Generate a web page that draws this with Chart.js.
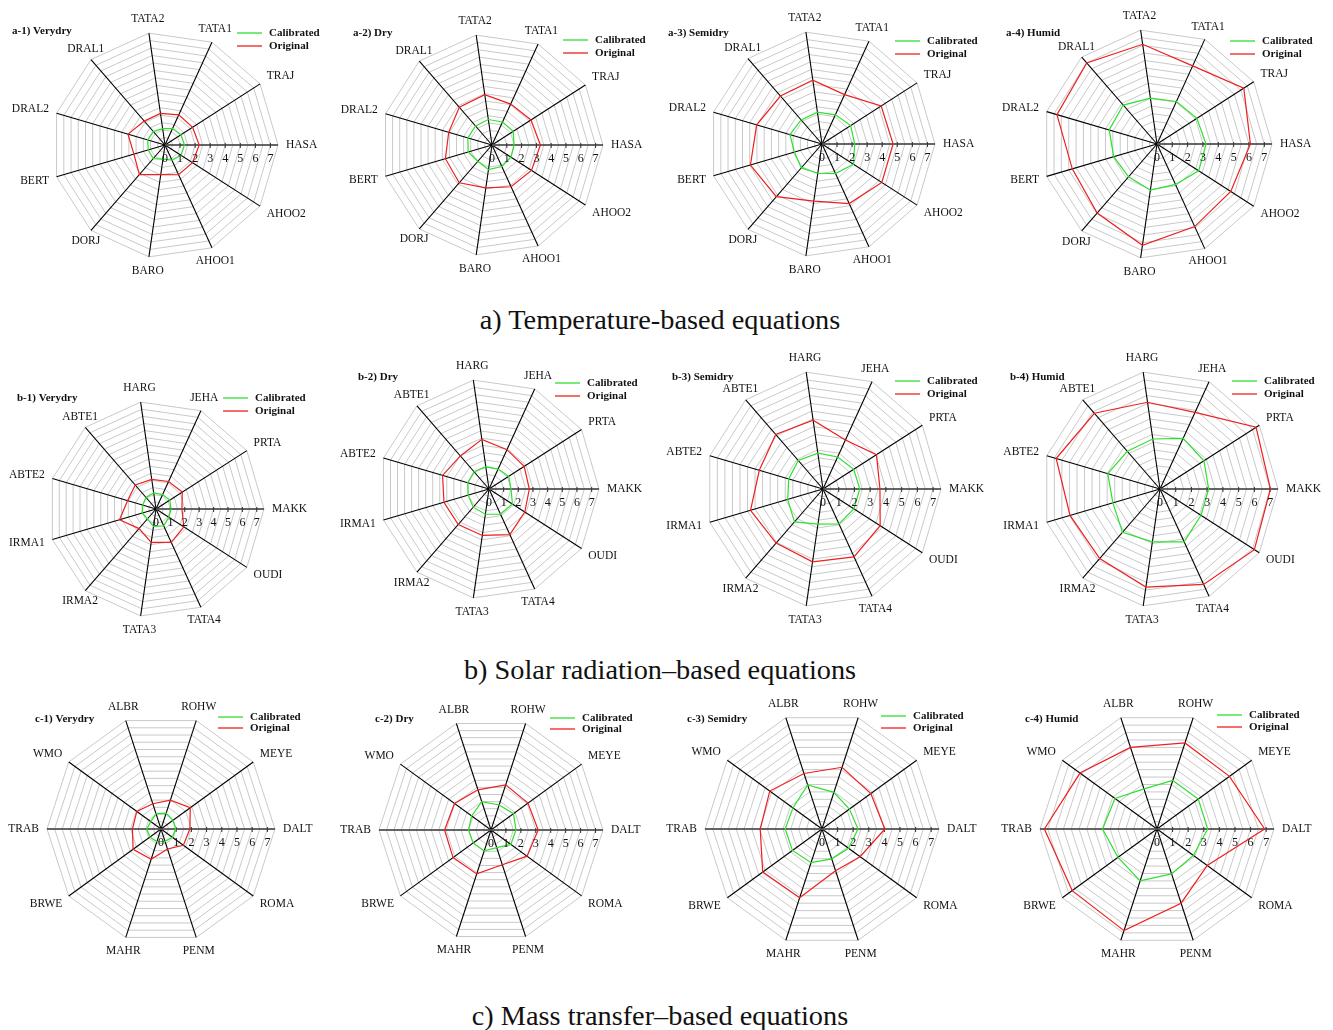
<!DOCTYPE html>
<html>
<head>
<meta charset="utf-8">
<script src="https://cdn.jsdelivr.net/npm/chart.js@4.4.1/dist/chart.umd.min.js"></script>
<style>
html,body{margin:0;padding:0;background:#fff;}
#page{position:relative;width:1333px;height:1030px;overflow:hidden;background:#fff;}
#page canvas{position:absolute;}
.cap{position:absolute;left:0;width:1320px;text-align:center;font-family:"Liberation Serif","Times New Roman",serif;font-size:28.3px;line-height:32px;color:#111;white-space:nowrap;}
</style>
</head>
<body>
<div id="page">
  <div class="cap" style="top:304px">a) Temperature-based equations</div>
  <div class="cap" style="top:654px">b) Solar radiation–based equations</div>
  <div class="cap" style="top:1000px">c) Mass transfer–based equations</div>
</div>
<script>
// Axis categories, listed clockwise starting from the right-hand (tick) axis
const tempCategories = ['HASA','AHOO2','AHOO1','BARO','DORJ','BERT','DRAL2','DRAL1','TATA2','TATA1','TRAJ'];
const radCategories  = ['MAKK','OUDI','TATA4','TATA3','IRMA2','IRMA1','ABTE2','ABTE1','HARG','JEHA','PRTA'];
const massCategories = ['DALT','ROMA','PENM','MAHR','BRWE','TRAB','WMO','ALBR','ROHW','MEYE'];

const tickValues = [0, 1, 2, 3, 4, 5, 6, 7];
const tickLabels = ['0', '1', '2', '3', '4', '5', '6', '7'];
const seriesNames = ['Calibrated', 'Original'];

// a) Temperature-based equations
const tempVerydryCal  = [1.29, 1.26, 1.10, 0.95, 1.20, 1.16, 1.20, 1.18, 1.10, 1.20, 1.26];
const tempVerydryOrig = [2.27, 2.17, 2.17, 1.98, 2.60, 2.15, 2.56, 2.10, 2.12, 2.20, 2.18];
const tempDryCal      = [1.49, 1.53, 1.60, 1.68, 1.45, 1.68, 1.70, 1.70, 1.74, 1.71, 1.70];
const tempDryOrig     = [3.27, 3.17, 3.10, 2.92, 3.38, 3.28, 3.05, 3.37, 3.44, 3.04, 3.13];
const tempSemidryCal  = [2.17, 2.48, 2.16, 1.96, 2.10, 1.91, 2.22, 2.12, 2.13, 2.13, 2.26];
const tempSemidryOrig = [4.72, 4.72, 4.35, 3.83, 4.63, 4.95, 4.52, 4.21, 4.28, 3.60, 4.67];
const tempHumidCal    = [3.20, 3.23, 2.90, 3.04, 2.83, 2.94, 3.25, 3.36, 3.02, 3.05, 3.09];
const tempHumidOrig   = [6.09, 5.72, 5.92, 6.67, 5.96, 5.76, 6.80, 7.00, 6.57, 5.60, 6.73];

// b) Solar radiation-based equations
const radVerydryCal   = [1.04, 1.06, 1.29, 1.22, 0.90, 0.99, 0.96, 1.06, 1.13, 1.10, 1.14];
const radVerydryOrig  = [1.80, 2.30, 2.55, 2.34, 1.80, 2.64, 2.06, 2.20, 2.08, 2.10, 2.17];
const radDryCal       = [1.50, 1.90, 1.88, 1.74, 1.64, 1.48, 1.51, 1.55, 1.54, 1.49, 1.60];
const radDryOrig      = [2.75, 2.90, 3.42, 3.20, 3.20, 3.20, 3.30, 2.98, 3.42, 2.95, 2.85];
const radSemidryCal   = [2.34, 2.33, 2.44, 2.26, 2.77, 2.34, 2.27, 2.40, 2.30, 2.24, 2.32];
const radSemidryOrig  = [3.62, 4.32, 4.74, 4.68, 4.55, 4.80, 4.22, 4.59, 4.42, 3.42, 4.04];
const radHumidCal     = [3.09, 3.10, 3.69, 3.39, 3.64, 3.12, 3.46, 3.17, 3.21, 3.54, 3.32];
const radHumidOrig    = [7.02, 7.13, 6.67, 6.30, 5.85, 5.96, 6.88, 6.37, 5.57, 5.35, 7.26];

// c) Mass transfer-based equations
const massVerydryCal  = [0.96, 0.92, 0.85, 0.87, 0.90, 0.94, 0.82, 1.06, 1.10, 0.98];
const massVerydryOrig = [1.90, 1.82, 1.38, 2.09, 2.27, 1.88, 1.97, 1.75, 2.00, 2.38];
const massDryCal      = [1.67, 1.64, 1.24, 1.47, 1.47, 1.51, 1.60, 2.00, 1.76, 1.86];
const massDryOrig     = [3.16, 2.98, 2.45, 3.09, 3.14, 3.11, 3.02, 2.83, 3.18, 3.06];
const massSemidryCal  = [2.31, 2.10, 2.01, 2.27, 2.34, 2.36, 2.30, 2.97, 2.47, 2.17];
const massSemidryOrig = [4.03, 3.02, 2.81, 4.64, 4.70, 3.96, 4.14, 3.74, 4.16, 3.87];
const massHumidCal    = [3.25, 2.88, 3.03, 3.50, 3.09, 3.49, 3.33, 2.70, 3.27, 3.27];
const massHumidOrig   = [6.90, 3.98, 5.00, 6.85, 6.72, 7.22, 6.10, 5.50, 5.80, 5.74];

const GREEN = '#2ee02e';
const RED = '#ee1f1f';
const SERIF = '"Liberation Serif","Times New Roman",serif';

// Panel placement: centre, radius, legend and title offsets from centre
const panels = [
  {title:'a-1) Verydry', cats:tempCategories, cal:tempVerydryCal, orig:tempVerydryOrig, cx:165,  cy:145, R:113, lx:72, ly:-112, lgap:13, tx:-153, ty:-114, full:false},
  {title:'a-2) Dry',     cats:tempCategories, cal:tempDryCal,     orig:tempDryOrig,     cx:492,  cy:145, R:111, lx:71, ly:-105, lgap:13, tx:-139, ty:-112, full:false},
  {title:'a-3) Semidry', cats:tempCategories, cal:tempSemidryCal, orig:tempSemidryOrig, cx:822,  cy:144, R:113, lx:73, ly:-103, lgap:13, tx:-154, ty:-111, full:false},
  {title:'a-4) Humid',   cats:tempCategories, cal:tempHumidCal,   orig:tempHumidOrig,   cx:1157, cy:144, R:115, lx:73, ly:-103, lgap:13, tx:-151, ty:-111, full:false},
  {title:'b-1) Verydry', cats:radCategories,  cal:radVerydryCal,  orig:radVerydryOrig,  cx:156,  cy:509, R:108, lx:67, ly:-111, lgap:13, tx:-139, ty:-111, full:false},
  {title:'b-2) Dry',     cats:radCategories,  cal:radDryCal,      orig:radDryOrig,      cx:489,  cy:489, R:110, lx:66, ly:-106, lgap:13, tx:-131, ty:-112, full:false},
  {title:'b-3) Semidry', cats:radCategories,  cal:radSemidryCal,  orig:radSemidryOrig,  cx:823,  cy:489, R:118, lx:72, ly:-108, lgap:13, tx:-151, ty:-112, full:false},
  {title:'b-4) Humid',   cats:radCategories,  cal:radHumidCal,    orig:radHumidOrig,    cx:1160, cy:489, R:118, lx:72, ly:-108, lgap:13, tx:-150, ty:-112, full:false},
  {title:'c-1) Verydry', cats:massCategories, cal:massVerydryCal, orig:massVerydryOrig, cx:161,  cy:829, R:114, lx:57, ly:-112, lgap:11, tx:-126, ty:-110, full:true},
  {title:'c-2) Dry',     cats:massCategories, cal:massDryCal,     orig:massDryOrig,     cx:491,  cy:830, R:112, lx:59, ly:-112, lgap:11, tx:-116, ty:-111, full:true},
  {title:'c-3) Semidry', cats:massCategories, cal:massSemidryCal, orig:massSemidryOrig, cx:822,  cy:829, R:117, lx:59, ly:-113, lgap:12, tx:-135, ty:-110, full:true},
  {title:'c-4) Humid',   cats:massCategories, cal:massHumidCal,   orig:massHumidOrig,   cx:1157, cy:829, R:117, lx:60, ly:-114, lgap:12, tx:-132, ty:-110, full:true}
];

const CW = 340, CH = 300, HX = 170, HY = 150;

function makeOverlay(p) {
  return {
    id: 'spiderOverlay',
    beforeDatasetsDraw(chart) {
      const s = chart.scales.r, ctx = chart.ctx;
      const cx = s.xCenter, cy = s.yCenter;
      const R = s.getDistanceFromCenterForValue(s.max);
      ctx.save();
      // value axis along the horizontal
      ctx.strokeStyle = '#5c5c5c';
      ctx.lineWidth = 1.6;
      ctx.beginPath();
      ctx.moveTo(p.full ? cx - R : cx, cy);
      ctx.lineTo(cx + R, cy);
      ctx.stroke();
      ctx.lineWidth = 1;
      ctx.strokeStyle = '#333';
      ctx.beginPath();
      tickValues.forEach(v => {
        if (v === 0) return;
        const x = cx + s.getDistanceFromCenterForValue(v);
        ctx.moveTo(x, cy - 2);
        ctx.lineTo(x, cy + 3);
      });
      ctx.stroke();
      ctx.restore();
    },
    afterDatasetsDraw(chart) {
      const s = chart.scales.r, ctx = chart.ctx;
      const cx = s.xCenter, cy = s.yCenter;
      const R = s.getDistanceFromCenterForValue(s.max);
      ctx.save();
      ctx.fillStyle = '#111';
      // tick numbers under the value axis
      ctx.font = '12px ' + SERIF;
      ctx.textAlign = 'center';
      ctx.textBaseline = 'middle';
      tickValues.forEach((v, i) => {
        ctx.fillText(tickLabels[i], cx + s.getDistanceFromCenterForValue(v), cy + 14);
      });
      // category names at the end of each spoke
      ctx.font = '11.5px ' + SERIF;
      chart.data.labels.forEach((lab, i) => {
        const a = s.getIndexAngle(i) - Math.PI / 2;
        const c = Math.cos(a), up = -Math.sin(a);
        const pos = s.getPointPosition(i, R + 8);
        let align = 'center', x = pos.x, y = pos.y;
        if (c > 0.75) align = 'left';
        else if (c < -0.75) align = 'right';
        y -= up * 6;
        ctx.textAlign = align;
        ctx.textBaseline = 'middle';
        ctx.fillText(lab, x, y);
      });
      // panel title
      ctx.font = 'bold 11px ' + SERIF;
      ctx.textAlign = 'left';
      ctx.fillText(p.title, cx + p.tx, cy + p.ty);
      // legend
      const lx = cx + p.lx, ly = cy + p.ly;
      chart.data.datasets.forEach((ds, i) => {
        const y = ly + i * p.lgap;
        ctx.strokeStyle = ds.borderColor;
        ctx.lineWidth = 1.3;
        ctx.beginPath();
        ctx.moveTo(lx, y);
        ctx.lineTo(lx + 25, y);
        ctx.stroke();
        ctx.fillStyle = '#111';
        ctx.fillText(ds.label, lx + 32, y + 0.5);
      });
      ctx.restore();
    }
  };
}

const page = document.getElementById('page');
panels.forEach(p => {
  const cv = document.createElement('canvas');
  cv.width = CW; cv.height = CH;
  cv.style.width = CW + 'px'; cv.style.height = CH + 'px';
  cv.style.left = (p.cx - HX) + 'px';
  cv.style.top = (p.cy - HY) + 'px';
  page.appendChild(cv);
  new Chart(cv, {
    type: 'radar',
    data: {
      labels: p.cats,
      datasets: [
        {label: seriesNames[0], data: p.cal, borderColor: GREEN, backgroundColor: GREEN, borderWidth: 1.2, pointRadius: 0, fill: false, tension: 0},
        {label: seriesNames[1], data: p.orig, borderColor: RED, backgroundColor: RED, borderWidth: 1.2, pointRadius: 0, fill: false, tension: 0}
      ]
    },
    options: {
      responsive: false,
      animation: false,
      devicePixelRatio: 1,
      layout: {padding: {left: HX - p.R, right: CW - HX - p.R, top: HY - p.R, bottom: CH - HY - p.R}},
      plugins: {legend: {display: false}, tooltip: {enabled: false}, title: {display: false}},
      scales: {
        r: {
          min: 0, max: 7.5,
          startAngle: 90,
          ticks: {display: false, stepSize: 0.5},
          grid: {color: '#c9c9c9', lineWidth: 1},
          angleLines: {display: true, color: '#000', lineWidth: 1.1},
          pointLabels: {display: false}
        }
      }
    },
    plugins: [makeOverlay(p)]
  });
});
</script>
</body>
</html>
